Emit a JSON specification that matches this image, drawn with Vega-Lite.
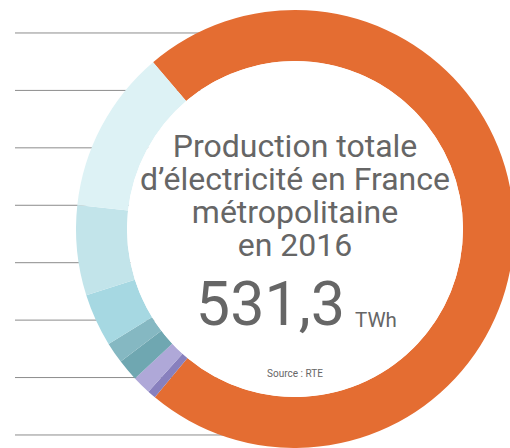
{
  "$schema": "https://vega.github.io/schema/vega-lite/v6.json",
  "width": 495,
  "height": 448,
  "autosize": "none",
  "padding": {"left": 15, "top": 0, "right": 0, "bottom": 0},
  "background": "white",
  "config": {
    "view": {"stroke": null},
    "locale": {"number": {"decimal": ",", "thousands": " ", "grouping": [3], "currency": ["", " €"]}},
    "text": {"font": "Roboto", "fontWeight": 400, "color": "#666666"}
  },
  "datasets": {
    "production": [
      {"filiere": "Nucléaire", "twh": 384.0, "ordre": 1},
      {"filiere": "Fioul", "twh": 3.3, "ordre": 2},
      {"filiere": "Charbon", "twh": 7.3, "ordre": 3},
      {"filiere": "Bioénergies", "twh": 8.5, "ordre": 4},
      {"filiere": "Solaire", "twh": 8.3, "ordre": 5},
      {"filiere": "Éolien", "twh": 20.7, "ordre": 6},
      {"filiere": "Gaz", "twh": 35.3, "ordre": 7},
      {"filiere": "Hydraulique", "twh": 63.9, "ordre": 8}
    ],
    "titre": [
      {"texte": "Production totale"},
      {"texte": "d’électricité en France"},
      {"texte": "métropolitaine"},
      {"texte": "en 2016"},
      {"texte": "TWh"},
      {"texte": "Source : RTE"}
    ]
  },
  "data": {"name": "production"},
  "resolve": {"scale": {"y": "independent"}},
  "layer": [
    {
      "mark": {"type": "rule", "color": "#8c8c8c", "strokeWidth": 1},
      "encoding": {
        "y": {
          "field": "filiere", "type": "nominal", "axis": null,
          "scale": {
            "type": "point",
            "domain": ["Nucléaire", "Hydraulique", "Gaz", "Éolien", "Solaire", "Bioénergies", "Charbon", "Fioul"],
            "padding": 0.4005, "align": 0.717
          }
        },
        "x": {"datum": -1.279, "type": "quantitative", "axis": null, "scale": {"domain": [-1.279, 0.982], "nice": false, "zero": false}},
        "x2": {"datum": 0}
      }
    },
    {
      "layer": [
        {
          "mark": {"type": "arc", "innerRadius": 168, "outerRadius": 219, "stroke": null},
          "encoding": {
            "x": {"datum": 0, "type": "quantitative"},
            "y": {"datum": 0, "type": "quantitative", "axis": null, "scale": {"domain": [-1, 1.0457], "nice": false, "zero": false}},
            "theta": {"field": "twh", "type": "quantitative", "stack": true, "scale": {"range": [-0.7051, 5.5781]}},
            "order": {"field": "ordre", "type": "quantitative"},
            "color": {
              "field": "filiere", "type": "nominal", "legend": null,
              "scale": {
                "domain": ["Nucléaire", "Fioul", "Charbon", "Bioénergies", "Solaire", "Éolien", "Gaz", "Hydraulique"],
                "range": ["#E46D32", "#8880BE", "#AFA8D8", "#6FA7B1", "#85B8C2", "#A6D8E2", "#C2E4EA", "#DDF2F5"]
              }
            }
          }
        },
        {
          "transform": [{"aggregate": [{"op": "sum", "field": "twh", "as": "total"}]}],
          "mark": {"type": "arc", "radius": 168, "radius2": 0, "fill": "white"},
          "encoding": {
            "x": {"datum": 0, "type": "quantitative"},
            "y": {"datum": 0, "type": "quantitative"}
          }
        },
        {
          "data": {"name": "titre"},
          "transform": [{"filter": "datum.texte === 'Production totale'"}],
          "mark": {"type": "text", "fontSize": 32, "align": "center", "baseline": "alphabetic", "dy": -72},
          "encoding": {"x": {"datum": 0, "type": "quantitative"}, "y": {"datum": 0, "type": "quantitative"}, "text": {"field": "texte"}}
        },
        {
          "data": {"name": "titre"},
          "transform": [{"filter": "datum.texte === 'd’électricité en France'"}],
          "mark": {"type": "text", "fontSize": 32, "align": "center", "baseline": "alphabetic", "dy": -39},
          "encoding": {"x": {"datum": 0, "type": "quantitative"}, "y": {"datum": 0, "type": "quantitative"}, "text": {"field": "texte"}}
        },
        {
          "data": {"name": "titre"},
          "transform": [{"filter": "datum.texte === 'métropolitaine'"}],
          "mark": {"type": "text", "fontSize": 32, "align": "center", "baseline": "alphabetic", "dy": -6},
          "encoding": {"x": {"datum": 0, "type": "quantitative"}, "y": {"datum": 0, "type": "quantitative"}, "text": {"field": "texte"}}
        },
        {
          "data": {"name": "titre"},
          "transform": [{"filter": "datum.texte === 'en 2016'"}],
          "mark": {"type": "text", "fontSize": 32, "align": "center", "baseline": "alphabetic", "dy": 27},
          "encoding": {"x": {"datum": 0, "type": "quantitative"}, "y": {"datum": 0, "type": "quantitative"}, "text": {"field": "texte"}}
        },
        {
          "transform": [{"aggregate": [{"op": "sum", "field": "twh", "as": "total"}]}],
          "mark": {"type": "text", "fontSize": 61, "align": "right", "baseline": "alphabetic", "dx": 50, "dy": 96},
          "encoding": {
            "x": {"datum": 0, "type": "quantitative"},
            "y": {"datum": 0, "type": "quantitative"},
            "text": {"field": "total", "type": "quantitative", "format": ".1f"}
          }
        },
        {
          "data": {"name": "titre"},
          "transform": [{"filter": "datum.texte === 'TWh'"}],
          "mark": {"type": "text", "fontSize": 20.5, "align": "left", "baseline": "alphabetic", "dx": 60, "dy": 98},
          "encoding": {"x": {"datum": 0, "type": "quantitative"}, "y": {"datum": 0, "type": "quantitative"}, "text": {"field": "texte"}}
        },
        {
          "data": {"name": "titre"},
          "transform": [{"filter": "datum.texte === 'Source : RTE'"}],
          "mark": {"type": "text", "fontSize": 10, "align": "center", "baseline": "alphabetic", "dy": 148},
          "encoding": {"x": {"datum": 0, "type": "quantitative"}, "y": {"datum": 0, "type": "quantitative"}, "text": {"field": "texte"}}
        }
      ]
    }
  ]
}
